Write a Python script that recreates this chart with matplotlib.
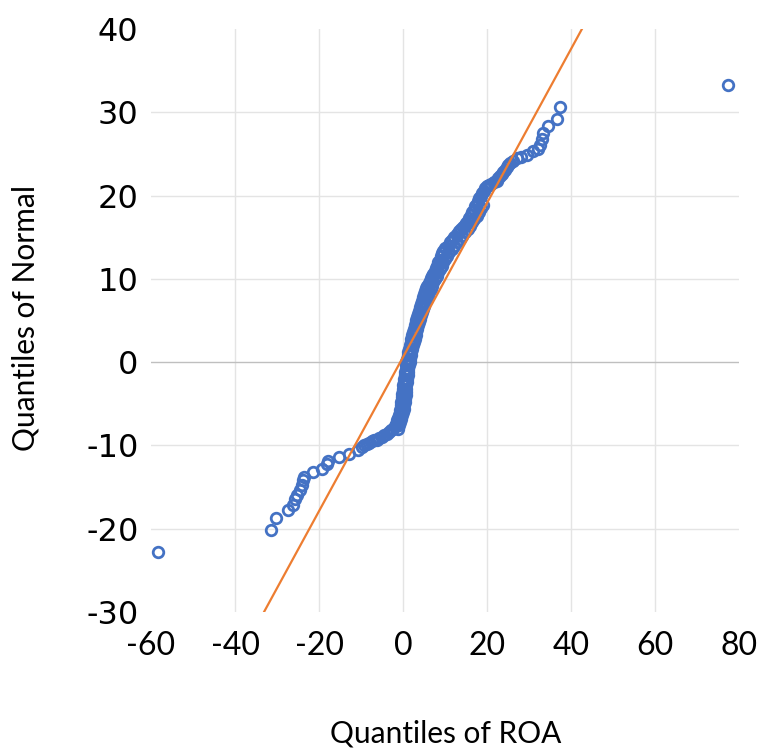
"""Normal Q-Q plot of ROA, Excel-style scatter with reference line."""

import matplotlib
matplotlib.use("Agg")
import matplotlib.pyplot as plt

plt.rcParams["axes.unicode_minus"] = False

# sample quantiles of ROA (x) against normal quantiles (y)
roa_q = [
    -58.3, -31.5, -30.2, -27.5, -26.3, -25.7, -25.3, -24.5, -24.0, -23.7,
    -23.5, -21.4, -19.4, -18.2, -17.8, -15.2, -12.8, -10.6,
    -9.8, -9.2, -8.6, -8.0, -7.4, -6.8, -6.2, -5.6, -5.1,
    -4.5, -3.9, -3.3, -2.8, -2.3,
    -2.0, -1.7, -1.4, -1.1, -0.9, -0.75, -0.6, -0.5,
    -0.45, -0.4, -0.35, -0.3, -0.2, -0.1, 0.0, 0.1, 0.2, 0.3, 0.4, 0.5,
    0.6, 0.7, 0.8, 0.9,
    1.1, 1.3, 1.45, 1.6, 1.8, 2.0, 2.2, 2.4, 2.6, 2.8, 3.0, 3.15, 3.3,
    3.5, 3.7, 3.95, 4.2, 4.45, 4.7, 4.95, 5.2,
    5.5, 5.8, 6.1, 6.4, 6.7, 7.0, 7.2,
    7.5, 7.8, 8.1, 8.4, 8.7, 9.0, 9.3, 9.6,
    10.1, 10.6, 11.2, 11.7, 12.2, 12.8,
    13.3, 13.8, 14.2, 14.7, 15.1, 15.5,
    15.8, 16.2, 16.5, 16.8, 17.2, 17.5, 17.8, 18.2, 18.5, 18.9, 19.2, 19.5,
    20.0, 20.5, 21.0, 21.6, 22.3,
    22.7, 23.1, 23.5, 23.9, 24.3, 24.7, 25.1, 25.5,
    26.3, 27.1, 28.0, 29.5, 31.0, 32.2, 32.6, 33.2, 33.4, 34.4, 36.7, 37.3,
    77.3,
]
normal_q = [
    -22.8, -20.1, -18.7, -17.8, -17.1, -16.4, -16.0, -15.4, -14.8, -14.2,
    -13.8, -13.2, -12.8, -12.2, -11.9, -11.4, -11.0, -10.6,
    -10.2, -10.0, -9.8, -9.65, -9.5, -9.4, -9.3, -9.15, -9.0,
    -8.8, -8.6, -8.4, -8.2, -8.0,
    -7.7, -7.4, -7.0, -6.7, -6.4, -6.1, -5.8, -5.5,
    -5.1, -4.8, -4.5, -4.2, -3.8, -3.5, -3.2, -2.8, -2.4, -2.0, -1.6, -1.2,
    -0.8, -0.4, 0.0, 0.4,
    0.8, 1.2, 1.6, 2.0, 2.4, 2.8, 3.2, 3.6, 4.0, 4.4, 4.8, 5.1, 5.4,
    5.8, 6.2, 6.6, 7.0, 7.4, 7.8, 8.2, 8.6,
    8.9, 9.2, 9.5, 9.8, 10.1, 10.4, 10.6,
    10.9, 11.25, 11.6, 12.0, 12.3, 12.7, 13.05, 13.4,
    13.7, 14.0, 14.4, 14.7, 15.0, 15.4,
    15.7, 16.0, 16.2, 16.5, 16.75, 17.0,
    17.3, 17.7, 18.0, 18.3, 18.7, 19.0, 19.3, 19.7, 20.0, 20.35, 20.6, 20.9,
    21.1, 21.25, 21.4, 21.6, 21.8,
    22.05, 22.35, 22.6, 22.85, 23.1, 23.4, 23.65, 23.9,
    24.2, 24.5, 24.6, 24.9, 25.3, 25.6, 26.1, 26.8, 27.5, 28.3, 29.2, 30.6,
    33.3,
]

# points along the right/lower edge of the dense band
roa_q_edge = [
    -1.3, -1.0, -0.7, -0.4, -0.2, 0.0, 0.15, 0.3, 0.4, 0.5, 0.6, 0.65,
    0.75, 0.8, 0.9, 1.0, 1.1, 1.2, 1.3, 1.4, 1.55, 1.7, 1.85, 2.0, 2.2,
    2.4, 2.6, 2.8, 3.0, 3.2, 3.4, 3.6, 3.8, 4.0, 4.25, 4.5, 4.75, 5.0,
    5.3, 5.6, 5.9, 6.2, 6.55, 6.9, 7.25, 7.6, 8.0, 8.4, 8.8, 9.2, 9.6,
    10.0, 10.5, 11.0, 11.6, 12.2, 12.8, 13.5, 14.1, 14.8, 15.4, 16.0,
    16.5, 17.0, 17.5, 18.0, 18.5, 19.0,
]
normal_q_edge = [
    -8.0, -7.6, -7.2, -6.8, -6.4, -6.0, -5.6, -5.2, -4.8, -4.4, -4.0, -3.6,
    -3.2, -2.8, -2.4, -2.0, -1.6, -1.2, -0.8, -0.4, 0.0, 0.4, 0.8, 1.2, 1.6,
    2.0, 2.4, 2.8, 3.2, 3.6, 4.0, 4.4, 4.8, 5.2, 5.6, 6.0, 6.4, 6.8,
    7.2, 7.6, 8.0, 8.4, 8.8, 9.2, 9.6, 10.0, 10.4, 10.8, 11.2, 11.6, 12.0,
    12.4, 12.8, 13.2, 13.6, 14.0, 14.4, 14.8, 15.2, 15.6, 16.0, 16.4,
    16.8, 17.2, 17.6, 18.0, 18.45, 18.9,
]

# reference line end points
line_x = [-33.1, 42.6]
line_y = [-30.0, 40.0]

x_ticks = [-60, -40, -20, 0, 20, 40, 60, 80]
y_ticks = [-30, -20, -10, 0, 10, 20, 30, 40]

fig = plt.figure(figsize=(7.6, 7.49), dpi=100)
ax = fig.add_axes([0.1987, 0.1829, 0.7737, 0.7784])

ax.set_xlim(x_ticks[0], x_ticks[-1])
ax.set_ylim(y_ticks[0], y_ticks[-1])

# interior gridlines only, like Excel
for v in x_ticks[1:-1]:
    ax.axvline(v, color="#e4e4e4", linewidth=1, zorder=0)
for v in y_ticks[1:-1]:
    if v == 0:
        ax.axhline(v, color="#bfbfbf", linewidth=1, zorder=0)
    else:
        ax.axhline(v, color="#e4e4e4", linewidth=1, zorder=0)

marker_style = dict(linestyle="none", marker="o", markersize=7.6,
                    markerfacecolor="none", markeredgecolor="#4472C4",
                    markeredgewidth=2.0, zorder=2)
ax.plot(roa_q, normal_q, **marker_style)
ax.plot(roa_q_edge, normal_q_edge, **marker_style)
ax.plot(line_x, line_y, color="#ED7D31", linewidth=1.6, zorder=3)

for s in ax.spines.values():
    s.set_visible(False)

ax.set_xticks(x_ticks)
ax.set_yticks(y_ticks)
ax.tick_params(length=0)
ax.tick_params(axis="y", pad=9)
ax.tick_params(axis="x", pad=14)
for lab in ax.get_yticklabels():
    lab.set_fontfamily("DejaVu Sans")
    lab.set_fontsize(23)
for lab in ax.get_xticklabels():
    lab.set_fontfamily("Lato")
    lab.set_fontsize(23)

fig.text(0.586, 0.021, "Quantiles of ROA", ha="center", va="center",
         fontsize=21.5, family="Lato")
fig.text(0.033, 0.575, "Quantiles of Normal", ha="center", va="center",
         rotation=90, fontsize=21.5, family="Lato")

fig.savefig("out.png", dpi=100)
